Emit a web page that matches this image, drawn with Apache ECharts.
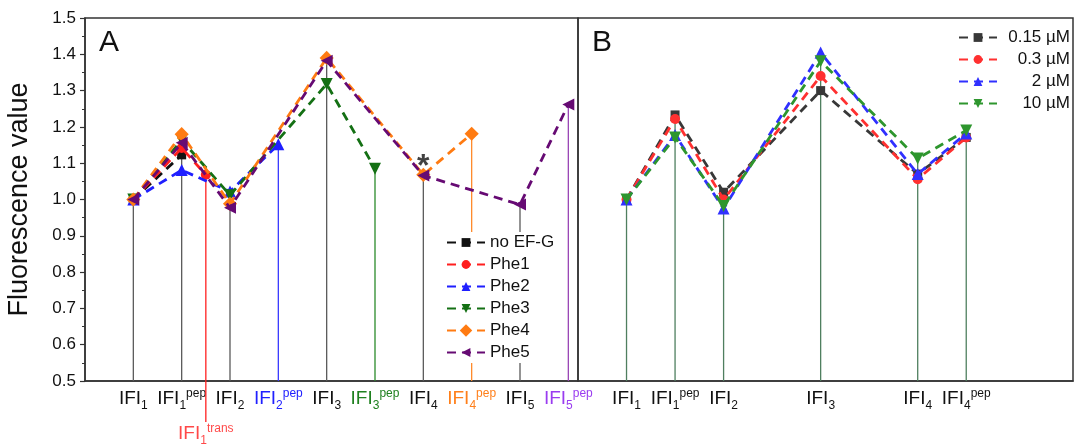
<!DOCTYPE html>
<html><head><meta charset="utf-8">
<script src="https://cdn.jsdelivr.net/npm/echarts@6/dist/echarts.min.js"></script>
<style>html,body{margin:0;padding:0;background:#fff}#c{width:1075px;height:448px}</style>
</head><body><div id="c"></div>
<script>
// ---------- data ----------
// Panel A tick positions and labels
const xA = [1, 2, 3, 4, 5, 6, 7, 8, 9, 10];
const labelSubA = ['1', '1', '2', '2', '3', '3', '4', '4', '5', '5'];
const labelSupA = ['', 'pep', '', 'pep', '', 'pep', '', 'pep', '', 'pep'];
const labelKeyA = ['k', 'k', 'k', 'b', 'k', 'g', 'k', 'o', 'k', 'p'];
const transX = 2.5;
const transSub = '1';
const transSup = 'trans';
const transLowY = 0.387;

// Panel A series
const namesA = ['no EF-G', 'Phe1', 'Phe2', 'Phe3', 'Phe4', 'Phe5'];
const noEFG_x = [1, 2];
const noEFG_y = [1.000, 1.123];
const phe1_x = [1, 2, 2.5];
const phe1_y = [1.000, 1.142, 1.068];
const phe2_x = [1, 2, 3, 4];
const phe2_y = [1.000, 1.081, 1.022, 1.152];
const phe3_x = [1, 2, 3, 5, 6];
const phe3_y = [1.000, 1.164, 1.012, 1.318, 1.085];
const phe4_x = [1, 2, 3, 5, 7, 8];
const phe4_y = [1.000, 1.180, 0.988, 1.390, 1.068, 1.181];
const phe5_x = [1, 2, 3, 5, 7, 9, 10];
const phe5_y = [1.000, 1.156, 0.977, 1.382, 1.066, 0.986, 1.262];
const asteriskX = 7;
const asteriskY = 1.088;

// Panel B
const xB = [1, 2, 3, 5, 7, 8];
const labelSubB = ['1', '1', '2', '3', '4', '4'];
const labelSupB = ['', 'pep', '', '', '', 'pep'];
const namesB = ['0.15 µM', '0.3 µM', '2 µM', '10 µM'];
const b015 = [1.000, 1.233, 1.020, 1.300, 1.070, 1.171];
const b03 = [1.000, 1.222, 1.000, 1.340, 1.056, 1.171];
const b2 = [1.000, 1.178, 0.975, 1.405, 1.070, 1.182];
const b10 = [1.000, 1.171, 0.982, 1.381, 1.113, 1.190];

// ---------- styling ----------
const FONT = 'Liberation Sans, Arial, sans-serif';
const labelColors = { k: '#111111', b: '#2020ff', g: '#1f801f', o: '#ff7f1a', p: '#9a3cf0', r: '#ff1a1a' };
const dropColorsA = { k: '#5a5a5a', b: '#3a3aff', g: '#2a8a2a', o: '#ff8a2a', p: '#9a45b5', r: '#ff2020' };
const colA = ['#111111', '#ff1f1f', '#1f1fff', '#147014', '#ff7b12', '#660a73'];
const symA = ['rect', 'circle', 'triangle', 'triangle', 'rect', 'triangle'];
const rotA = [0, 0, 0, 180, 45, 90];
const sizeA = [9, 10, 12, 12, 10, 12];
const colB = ['#383838', '#ff3030', '#3030ff', '#2e962e'];
const symB = ['rect', 'circle', 'triangle', 'triangle'];
const rotB = [0, 0, 0, 180];
const sizeB = [9, 10, 12, 12];

const rich = {};
Object.keys(labelColors).forEach(k => {
  const c = labelColors[k];
  rich['b' + k] = { fontSize: 19, color: c, fontFamily: FONT, lineHeight: 26, height: 26 };
  rich['s' + k] = { fontSize: 12, color: c, fontFamily: FONT, lineHeight: 12, height: 12, verticalAlign: 'bottom' };
  rich['p' + k] = { fontSize: 12, color: c, fontFamily: FONT, lineHeight: 16, height: 16, verticalAlign: 'top' };
});
function ifi(sub, sup, k) {
  let s = '{b' + k + '|IFI}{s' + k + '|' + sub + '}';
  if (sup) s += '{p' + k + '|' + sup + '}';
  return s;
}

const series = [];
const seriesA = [
  [noEFG_x, noEFG_y], [phe1_x, phe1_y], [phe2_x, phe2_y],
  [phe3_x, phe3_y], [phe4_x, phe4_y], [phe5_x, phe5_y]
];

// drop lines panel A (height = max value at that x)
function maxAt(x, list) {
  let m = null;
  list.forEach(([xs, ys]) => { const i = xs.indexOf(x); if (i >= 0 && (m === null || ys[i] > m)) m = ys[i]; });
  return m;
}
xA.forEach((x, i) => {
  const top = maxAt(x, seriesA);
  if (top === null) return;
  series.push({
    type: 'line', xAxisIndex: 0, yAxisIndex: 0, silent: true, symbol: 'none', z: 1,
    data: [[x, 0.5], [x, top]], lineStyle: { color: dropColorsA[labelKeyA[i]], width: 1.3 }
  });
});
series.push({
  type: 'line', xAxisIndex: 0, yAxisIndex: 0, silent: true, symbol: 'none', z: 1, clip: false,
  data: [[transX, transLowY], [transX, maxAt(transX, seriesA)]],
  lineStyle: { color: dropColorsA.r, width: 1.3 }
});

seriesA.forEach(([xs, ys], i) => {
  series.push({
    name: namesA[i], type: 'line', xAxisIndex: 0, yAxisIndex: 0, z: 3 + i,
    data: xs.map((x, j) => [x, ys[j]]),
    symbol: symA[i], symbolRotate: rotA[i], symbolSize: sizeA[i],
    itemStyle: { color: colA[i] },
    lineStyle: { color: colA[i], width: 2.8, type: [9, 6] }
  });
});

// IFI1 trans label + asterisk (annotations)
series.push({
  type: 'scatter', xAxisIndex: 0, yAxisIndex: 0, silent: true, symbolSize: 2, z: 2,
  itemStyle: { color: 'rgba(0,0,0,0)' },
  data: [[transX, 0.5]],
  label: { show: true, position: 'bottom', distance: 39, formatter: () => ifi(transSub, transSup, 'r'), rich: rich }
});
series.push({
  type: 'scatter', xAxisIndex: 0, yAxisIndex: 0, silent: true, symbolSize: 2, z: 10,
  itemStyle: { color: 'rgba(0,0,0,0)' },
  data: [[asteriskX, asteriskY]],
  label: { show: true, position: 'inside', formatter: '*', fontSize: 32, fontWeight: 'bold', color: '#111', fontFamily: FONT }
});

// Panel B
const seriesB = [b015, b03, b2, b10];
xB.forEach((x, i) => {
  const top = Math.max(...seriesB.map(s => s[i]));
  series.push({
    type: 'line', xAxisIndex: 1, yAxisIndex: 1, silent: true, symbol: 'none', z: 1,
    data: [[x, 0.5], [x, top]], lineStyle: { color: '#4f7f5f', width: 1.3 }
  });
});
seriesB.forEach((ys, i) => {
  series.push({
    name: namesB[i], type: 'line', xAxisIndex: 1, yAxisIndex: 1, z: 3 + i,
    data: xB.map((x, j) => [x, ys[j]]),
    symbol: symB[i], symbolRotate: rotB[i], symbolSize: sizeB[i],
    itemStyle: { color: colB[i] },
    lineStyle: { color: colB[i], width: 2.8, type: [9, 6] }
  });
});

const chart = echarts.init(document.getElementById('c'), null, { renderer: 'canvas' });
chart.setOption({
  animation: false,
  backgroundColor: '#fff',
  textStyle: { fontFamily: FONT },
  grid: [
    { left: 85, top: 18, width: 493, height: 363, show: true, borderColor: '#333', borderWidth: 1.5, backgroundColor: 'transparent' },
    { left: 578, top: 18, width: 495, height: 363, show: true, borderColor: '#333', borderWidth: 1.5, backgroundColor: 'transparent' }
  ],
  xAxis: [
    {
      type: 'value', gridIndex: 0, min: 0, max: 10.2, interval: 1,
      axisLine: { show: true, onZero: false, lineStyle: { color: '#333', width: 1.5 } },
      axisTick: { show: false }, splitLine: { show: false },
      axisLabel: {
        margin: 5, hideOverlap: false, showMinLabel: false, showMaxLabel: false, rich: rich,
        formatter: v => { const i = xA.indexOf(v); return i < 0 ? '' : ifi(labelSubA[i], labelSupA[i], labelKeyA[i]); }
      }
    },
    {
      type: 'value', gridIndex: 1, min: 0, max: 10.2, interval: 1,
      axisLine: { show: true, onZero: false, lineStyle: { color: '#333', width: 1.5 } },
      axisTick: { show: false }, splitLine: { show: false },
      axisLabel: {
        margin: 5, hideOverlap: false, showMinLabel: false, showMaxLabel: false, rich: rich,
        formatter: v => { const i = xB.indexOf(v); return i < 0 ? '' : ifi(labelSubB[i], labelSupB[i], 'k'); }
      }
    }
  ],
  yAxis: [
    {
      type: 'value', gridIndex: 0, min: 0.5, max: 1.5, interval: 0.1,
      name: 'Fluorescence value', nameLocation: 'middle', nameGap: 52,
      nameTextStyle: { fontSize: 27, color: '#111', fontFamily: FONT },
      axisLine: { show: true, lineStyle: { color: '#333', width: 1.5 } },
      axisTick: { show: true, inside: false, length: 5, lineStyle: { color: '#333', width: 1.2 } },
      minorTick: { show: true, splitNumber: 2, length: 3, lineStyle: { color: '#333', width: 1 } },
      splitLine: { show: false },
      axisLabel: { fontSize: 17, color: '#111', margin: 9, fontFamily: FONT, formatter: v => v.toFixed(1) }
    },
    {
      type: 'value', gridIndex: 1, min: 0.5, max: 1.5, interval: 0.1,
      axisLine: { show: false }, axisTick: { show: false }, axisLabel: { show: false }, splitLine: { show: false }
    }
  ],
  legend: [
    {
      data: namesA, orient: 'vertical', left: 444, top: 232, backgroundColor: '#fff',
      padding: [2, 4, 2, 2], itemWidth: 38, itemHeight: 11, itemGap: 5,
      textStyle: { fontSize: 17, color: '#111', fontFamily: FONT }
    },
    {
      data: namesB, orient: 'vertical', left: 958, top: 29, backgroundColor: 'transparent',
      padding: 0, itemWidth: 38, itemHeight: 11, itemGap: 5,
      formatter: n => '{r|' + n + '}',
      textStyle: { fontSize: 17, color: '#111', fontFamily: FONT, rich: { r: { width: 68, align: 'right', fontSize: 17, fontFamily: FONT, color: '#111' } } }
    }
  ],
  graphic: [
    { type: 'text', left: 99, top: 28, style: { text: 'A', fontSize: 30, fill: '#111', fontFamily: FONT } },
    { type: 'text', left: 592, top: 28, style: { text: 'B', fontSize: 30, fill: '#111', fontFamily: FONT } }
  ],
  series: series
});
</script></body></html>
